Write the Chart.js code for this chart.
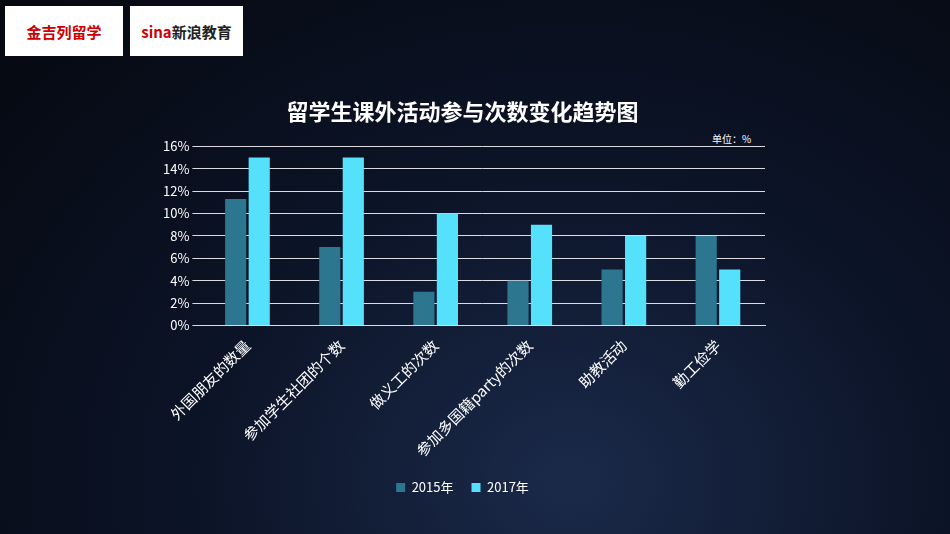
<!DOCTYPE html>
<html>
<head>
<meta charset="utf-8">
<script src="https://cdn.jsdelivr.net/npm/chart.js@4"></script>
<style>
  body { margin: 0; width: 950px; height: 534px; overflow: hidden;
    background: radial-gradient(ellipse at 60% 90%, #1b2a4a 0%, #0c1428 45%, #05080f 100%);
    font-family: "Noto Sans CJK SC", sans-serif; }
  #wrap { position: absolute; left: 0; top: 0; width: 950px; height: 534px; }
  .logo { position: absolute; top: 6px; height: 50px; background: #fff; color: #c00;
    font-size: 15px; font-weight: bold; display: flex; align-items: center; justify-content: center; }
  #unit { position: absolute; left: 712px; top: 131px; color: #fff; font-size: 10px; }
</style>
</head>
<body>
<div class="logo" style="left:5px;width:118px;">金吉列留学</div>
<div class="logo" style="left:130px;width:113px;color:#222;"><span style="color:#c00">sina</span>新浪教育</div>
<div id="unit">单位：%</div>
<div id="wrap"><canvas id="c"></canvas></div>
<script>
const categories = ['外国朋友的数量', '参加学生社团的个数', '做义工的次数', '参加多国籍party的次数', '助教活动', '勤工俭学'];
const values2015 = [11.3, 7, 3, 4, 5, 8];
const values2017 = [15, 15, 10, 9, 8, 5];

Chart.defaults.font.family = '"Noto Sans CJK SC", sans-serif';
Chart.defaults.color = '#ffffff';

new Chart(document.getElementById('c'), {
  type: 'bar',
  data: {
    labels: categories,
    datasets: [
      { label: '2015年', data: values2015, backgroundColor: '#2c7690' },
      { label: '2017年', data: values2017, backgroundColor: '#55e0fb' }
    ]
  },
  options: {
    responsive: true,
    maintainAspectRatio: false,
    animation: false,
    layout: { padding: { left: 160, right: 185, top: 20, bottom: 30 } },
    datasets: { bar: { categoryPercentage: 0.5, barPercentage: 0.9 } },
    plugins: {
      title: { display: true, text: '留学生课外活动参与次数变化趋势图', color: '#fff',
        font: { size: 22, weight: 'bold' }, padding: { top: 78, bottom: 22 } },
      legend: { position: 'bottom', labels: { boxWidth: 9, boxHeight: 9, font: { size: 13 }, padding: 18 } },
      tooltip: { enabled: false }
    },
    scales: {
      x: {
        grid: { display: false },
        border: { color: '#ddd' },
        ticks: { maxRotation: 45, minRotation: 45, font: { size: 15 }, color: '#fff' }
      },
      y: {
        min: 0, max: 16,
        ticks: { stepSize: 2, callback: v => v + '%', font: { size: 13 }, color: '#fff' },
        grid: { color: 'rgba(255,255,255,0.85)' },
        border: { display: false }
      }
    }
  }
});
</script>
</body>
</html>
